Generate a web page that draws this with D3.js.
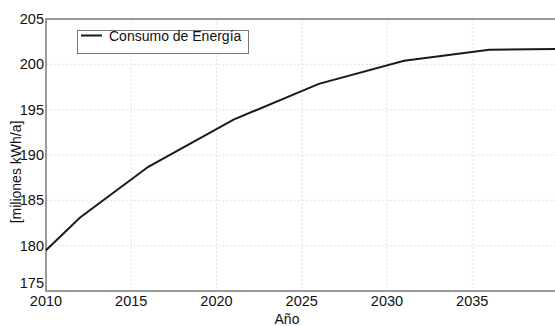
<!DOCTYPE html>
<html lang="es">
<head>
<meta charset="UTF-8">
<title>Consumo de Energía</title>
<script src="https://cdn.jsdelivr.net/npm/d3@7.9.0/dist/d3.min.js"></script>
<style>
  body { margin: 0; background: #fff; }
  svg { display: block; font-family: "Liberation Sans", Arial, sans-serif; }
</style>
</head>
<body>
<div id="chart"></div>
<script>
const years  = [2010, 2012, 2016, 2021, 2026, 2031, 2036, 2040];
const values = [179.5, 183.1, 188.7, 193.9, 197.85, 200.4, 201.6, 201.7];
const xTicks = [2010, 2015, 2020, 2025, 2030, 2035];
const yTicks = [175, 180, 185, 190, 195, 200, 205];
const seriesName = "Consumo de Energía";

const width = 555, height = 326;
const margin = { top: 19, left: 46, bottom: 35 };
const plotRight = 557.5;

const svg = d3.select("#chart").append("svg")
  .attr("width", width)
  .attr("height", height);

const x = d3.scaleLinear().domain([2010, 2040]).range([margin.left, plotRight]);
const y = d3.scaleLinear().domain([175, 205]).range([height - margin.bottom, margin.top]);

// grid
const grid = svg.append("g").attr("stroke", "#e0e0e0").attr("stroke-dasharray", "2,2").attr("stroke-width", 1);
grid.selectAll(".gx").data(xTicks.slice(1)).enter().append("line")
  .attr("x1", d => x(d)).attr("x2", d => x(d))
  .attr("y1", y(205)).attr("y2", y(175));
grid.selectAll(".gy").data(yTicks.slice(1, -1)).enter().append("line")
  .attr("x1", x(2010)).attr("x2", plotRight)
  .attr("y1", d => y(d)).attr("y2", d => y(d));

// frame
svg.append("path")
  .attr("d", `M${plotRight},${y(205)}H${x(2010)}V${y(175)}H${plotRight}`)
  .attr("fill", "none")
  .attr("stroke", "#999")
  .attr("stroke-width", 2);

// tick labels (lowest one nudged up so it clears the x labels)
svg.append("g").selectAll("text").data(yTicks).enter().append("text")
  .attr("x", x(2010) - 2)
  .attr("y", d => y(d) + (d === 175 ? -8 : 0))
  .attr("dy", "0.35em")
  .attr("text-anchor", "end")
  .attr("font-size", 14.5)
  .attr("fill", "#111")
  .text(d => d);

svg.append("g").selectAll("text").data(xTicks).enter().append("text")
  .attr("x", d => x(d))
  .attr("y", y(175) + 5)
  .attr("dy", "0.71em")
  .attr("text-anchor", "middle")
  .attr("font-size", 14.5)
  .attr("fill", "#111")
  .text(d => d);

// axis titles
svg.append("text")
  .attr("x", 287)
  .attr("y", 324)
  .attr("text-anchor", "middle")
  .attr("font-size", 14)
  .attr("fill", "#111")
  .text("Año");

svg.append("text")
  .attr("transform", "translate(21,172) rotate(-90)")
  .attr("text-anchor", "middle")
  .attr("font-size", 14)
  .attr("fill", "#111")
  .text("[miliones kWh/a]");

// line
const data = years.map((yr, i) => ({ year: yr, value: values[i] }));
svg.append("path")
  .datum(data)
  .attr("fill", "none")
  .attr("stroke", "#1a1a1a")
  .attr("stroke-width", 2)
  .attr("d", d3.line().x(d => x(d.year)).y(d => y(d.value)));

// legend
const lg = svg.append("g");
lg.append("rect")
  .attr("x", 77.5).attr("y", 30.5)
  .attr("width", 171).attr("height", 23)
  .attr("fill", "#fff")
  .attr("stroke", "#777")
  .attr("stroke-width", 1);
lg.append("line")
  .attr("x1", 81).attr("x2", 102)
  .attr("y1", 35.5).attr("y2", 35.5)
  .attr("stroke", "#1a1a1a")
  .attr("stroke-width", 2);
lg.append("text")
  .attr("x", 109)
  .attr("y", 41)
  .attr("font-size", 14)
  .attr("fill", "#111")
  .text(seriesName);
</script>
</body>
</html>
